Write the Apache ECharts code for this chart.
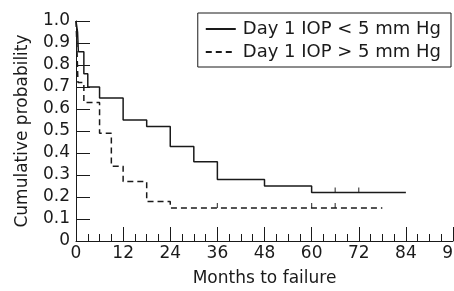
<!DOCTYPE html>
<html>
<head>
<meta charset="utf-8">
<script src="https://cdn.jsdelivr.net/npm/echarts@6/dist/echarts.min.js"></script>
<style>
  html, body { margin: 0; padding: 0; background: #fff; }
  #chart { width: 454px; height: 291px; }
</style>
</head>
<body>
<div id="chart"></div>
<script>
// Kaplan-Meier steps: [months, survival after drop]
const lowIopTimes = [0, 0.4, 0.6, 2, 3, 6, 12, 18, 24, 30, 36, 48, 60, 84];
const lowIopProb = [1.0, 0.95, 0.86, 0.76, 0.70, 0.65, 0.55, 0.52, 0.43, 0.36, 0.28, 0.25, 0.22, 0.22];
const lowIopCensor = [66, 72];

const highIopTimes = [0, 0.2, 0.5, 2, 6, 9, 12, 18, 24, 78];
const highIopProb = [1.0, 0.9, 0.72, 0.63, 0.49, 0.34, 0.27, 0.18, 0.15, 0.15];
const highIopCensor = [36, 60, 66];

const seriesNames = ['Day 1 IOP < 5 mm Hg', 'Day 1 IOP > 5 mm Hg'];

const FONT = 'DejaVu Sans';
const INK = '#1a1a1a';

function pairs(ts, ps) {
  return ts.map((t, i) => [t, ps[i]]);
}

function censorPoints(ts, times, probs) {
  // value of the curve at the censor time
  return ts.map((c) => {
    let p = probs[0];
    for (let i = 0; i < times.length; i++) {
      if (times[i] <= c) p = probs[i];
    }
    return [c, p];
  });
}

const chart = echarts.init(document.getElementById('chart'));

chart.setOption({
  animation: false,
  backgroundColor: '#fff',
  textStyle: { fontFamily: FONT, color: INK },
  grid: { left: 76, right: 1, top: 21, bottom: 50, containLabel: false, outerBoundsMode: 'none' },
  legend: {
    data: seriesNames,
    orient: 'vertical',
    right: 3,
    top: 13,
    padding: [7, 10, 6, 7],
    itemGap: 5,
    itemWidth: 30,
    itemHeight: 18,
    borderColor: INK,
    borderWidth: 1,
    itemStyle: { opacity: 0 },
    textStyle: { fontFamily: FONT, fontSize: 18, color: INK, padding: [0, 0, 0, 2] },
  },
  xAxis: {
    type: 'value',
    min: 0,
    max: 96,
    interval: 12,
    name: 'Months to failure',
    nameLocation: 'middle',
    nameGap: 29,
    nameTextStyle: { fontFamily: FONT, fontSize: 17, color: INK },
    axisLine: { lineStyle: { color: INK, width: 1 } },
    axisTick: { inside: true, length: 14, lineStyle: { color: INK } },
    minorTick: { show: true, splitNumber: 4, length: 7, lineStyle: { color: INK } },
    axisLabel: { fontFamily: FONT, fontSize: 17, color: INK, margin: 4, hideOverlap: false },
    splitLine: { show: false },
  },
  yAxis: {
    type: 'value',
    min: 0,
    max: 1,
    interval: 0.1,
    name: 'Cumulative probability',
    nameLocation: 'middle',
    nameGap: 45,
    nameTextStyle: { fontFamily: FONT, fontSize: 17, color: INK },
    axisLine: { show: true, lineStyle: { color: INK, width: 1 } },
    axisTick: { show: true, inside: true, length: 14, lineStyle: { color: INK } },
    axisLabel: {
      fontFamily: FONT,
      fontSize: 17,
      color: INK,
      margin: 6,
      formatter: (v) => (v === 0 ? '0' : v.toFixed(1)),
    },
    splitLine: { show: false },
  },
  series: [
    {
      name: seriesNames[0],
      type: 'line',
      step: 'end',
      symbol: 'none',
      data: pairs(lowIopTimes, lowIopProb),
      lineStyle: { color: INK, width: 1.5, type: 'solid' },
      itemStyle: { color: INK },
    },
    {
      name: seriesNames[1],
      type: 'line',
      step: 'end',
      symbol: 'none',
      data: pairs(highIopTimes, highIopProb),
      lineStyle: { color: INK, width: 1.5, type: [6, 4] },
      itemStyle: { color: INK },
    },
    {
      name: 'censor-low',
      type: 'scatter',
      symbol: 'rect',
      symbolSize: [1.2, 5],
      symbolOffset: [0, -2.5],
      itemStyle: { color: INK },
      data: censorPoints(lowIopCensor, lowIopTimes, lowIopProb),
      silent: true,
    },
    {
      name: 'censor-high',
      type: 'scatter',
      symbol: 'rect',
      symbolSize: [1.2, 5],
      symbolOffset: [0, -2.5],
      itemStyle: { color: INK },
      data: censorPoints(highIopCensor, highIopTimes, highIopProb),
      silent: true,
    },
  ],
});
</script>
</body>
</html>
